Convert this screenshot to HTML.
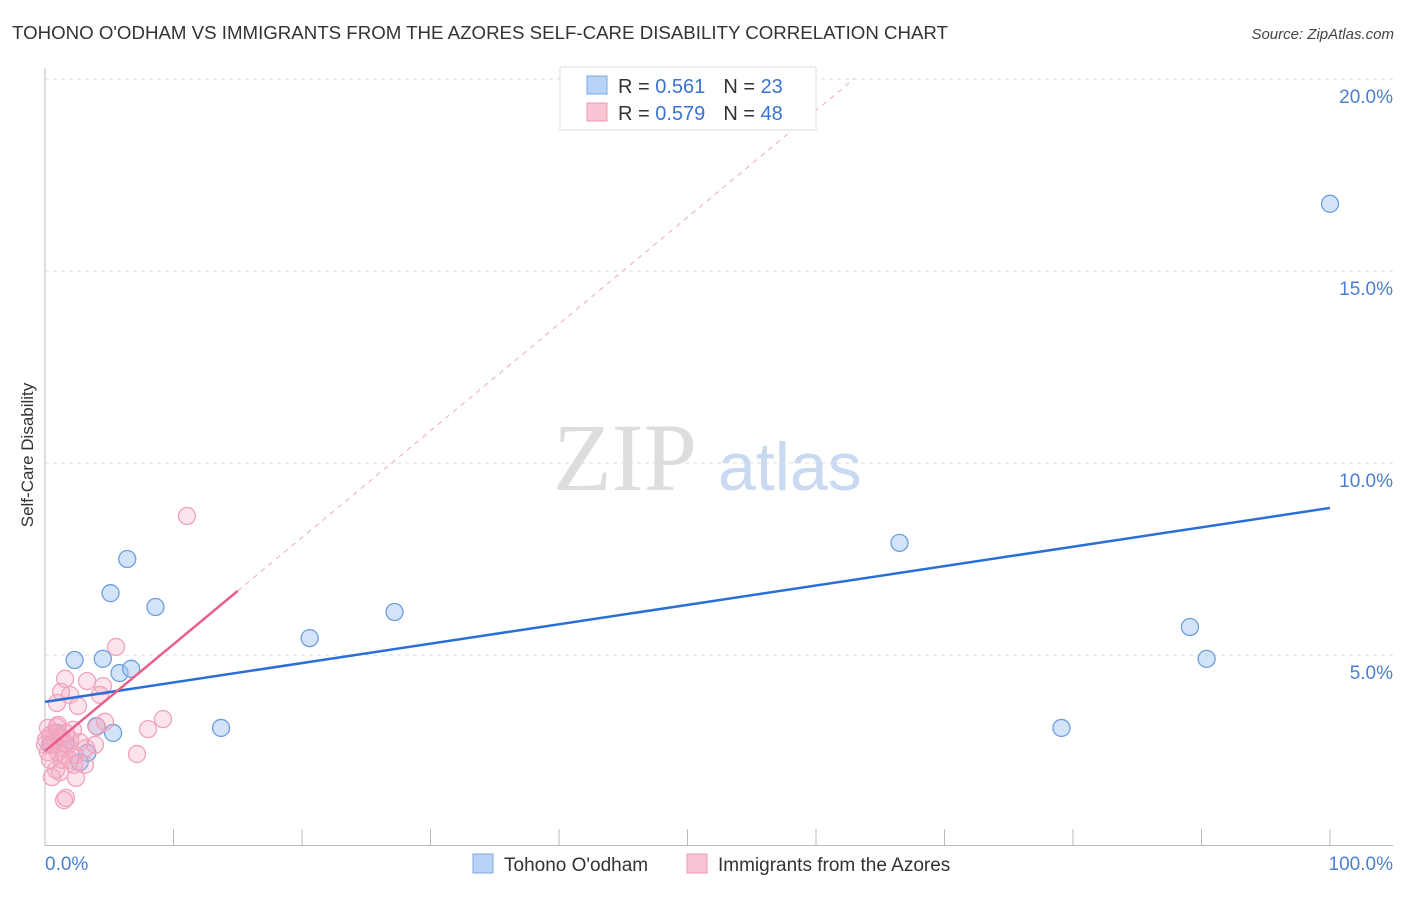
<!DOCTYPE html>
<html><head><meta charset="utf-8"><style>
body{margin:0;background:#fff;font-family:"Liberation Sans",sans-serif;}
</style></head><body>
<svg width="1406" height="892" xmlns="http://www.w3.org/2000/svg" font-family="Liberation Sans, sans-serif">
<text x="12" y="39" font-size="18" fill="#333" textLength="936" lengthAdjust="spacingAndGlyphs">TOHONO O'ODHAM VS IMMIGRANTS FROM THE AZORES SELF-CARE DISABILITY CORRELATION CHART</text>
<text x="1394" y="39" font-size="15" fill="#444" text-anchor="end" font-style="italic">Source: ZipAtlas.com</text>
<text x="553" y="490" font-size="96" fill="#ddd" font-family="Liberation Serif, serif">ZIP</text>
<text x="718" y="490" font-size="68" fill="#c9daf0">atlas</text>
<g id="grid"></g>
<line x1="45" y1="68" x2="45" y2="846" stroke="#bbb"/>
<line x1="45" y1="845.5" x2="1393" y2="845.5" stroke="#bbb"/>
<g id="ticks"></g>
<text transform="translate(33,455) rotate(-90)" font-size="17" fill="#333" text-anchor="middle">Self-Care Disability</text>
<text x="45" y="870" font-size="19" fill="#4a7fd4">0.0%</text>
<text x="1393" y="870" font-size="19" fill="#4a7fd4" text-anchor="end">100.0%</text>
<g id="lines"></g>
<g id="points"></g>
<g>
<rect x="560" y="67" width="256" height="63" fill="#fff" stroke="#ddd"/>
<rect x="587" y="76" width="20" height="18" fill="#b8d3f5" stroke="#7aa8e6"/>
<rect x="587" y="103" width="20" height="18" fill="#f9c4d3" stroke="#ee9ab3"/>
<text x="618" y="93" font-size="20" fill="#333">R = <tspan fill="#3a74d0">0.561</tspan><tspan dx="18">N = </tspan><tspan fill="#3a74d0">23</tspan></text>
<text x="618" y="120" font-size="20" fill="#333">R = <tspan fill="#3a74d0">0.579</tspan><tspan dx="18">N = </tspan><tspan fill="#3a74d0">48</tspan></text>
</g>
<g>
<rect x="473" y="854" width="20" height="19" fill="#b8d3f5" stroke="#7aa8e6"/>
<text x="504" y="871" font-size="19" fill="#333">Tohono O'odham</text>
<rect x="687" y="854" width="20" height="19" fill="#f9c4d3" stroke="#ee9ab3"/>
<text x="718" y="871" font-size="19" fill="#333">Immigrants from the Azores</text>
</g>
</svg>
<script>
const yTicks=[5,10,15,20];
const yTickLabels=["5.0%","10.0%","15.0%","20.0%"];
const xTicks=[0,10,20,30,40,50,60,70,80,90,100];
const blueX=[100,66.5,89.1,90.4,79.1,27.2,20.6,8.6,6.4,5.1,2.3,4.5,5.8,6.7,4.0,5.3,13.7,3.3,2.7,0.9,1.3,0.4,1.6];
const blueY=[16.75,7.92,5.73,4.9,3.1,6.12,5.44,6.25,7.5,6.61,4.87,4.9,4.53,4.64,3.15,2.97,3.1,2.45,2.21,2.97,2.84,2.66,2.68];
const pinkX=[11.05,5.53,1.56,3.27,4.51,1.95,4.28,1.25,2.57,0.93,4.67,9.18,8.02,7.16,4.05,2.18,0.93,0.39,0.78,0.54,1.32,1.79,1.01,1.48,2.33,0.23,1.95,2.26,0.86,1.17,0.54,2.41,1.63,1.48,3.19,3.89,0.39,0.70,1.17,0.08,0.23,1.95,2.72,0,1.32,1.01,1.63,3.11];
const pinkY=[8.62,5.21,4.38,4.32,4.19,3.96,3.96,4.04,3.67,3.75,3.26,3.33,3.07,2.42,3.13,3.05,3.13,2.92,2.79,2.66,2.58,2.66,2.47,2.40,2.40,2.47,2.27,2.14,2.01,1.95,1.82,1.80,1.28,1.22,2.58,2.66,2.27,2.97,2.89,2.79,3.10,2.79,2.73,2.66,2.27,3.18,2.97,2.14];
const blueFit=[3.78,8.83];
const pinkFit=[2.5,0.278];
const NS="http://www.w3.org/2000/svg";
const sx=v=>45+v*12.85, sy=v=>847-v*38.4;
function mk(t,a,p){const e=document.createElementNS(NS,t);for(const k in a)e.setAttribute(k,a[k]);p.appendChild(e);return e;}
const grid=document.getElementById('grid');
yTicks.forEach((t,i)=>{
 const l=mk('line',{x1:45,x2:1393,y1:sy(t),y2:sy(t),stroke:'#ddd','stroke-dasharray':'4,4'},grid);
 
 
 const tx=mk('text',{x:1393,y:sy(t)+24,'font-size':19,fill:'#4a7fd4','text-anchor':'end'},grid);
 tx.textContent=yTickLabels[i];
 
 
});
const tk=document.getElementById('ticks');
xTicks.forEach(t=>{
 const l=mk('line',{x1:sx(t),x2:sx(t),y1:829,y2:845,stroke:'#bbb'},tk);
 
 
});
const ln=document.getElementById('lines');
let l=mk('line',{x1:sx(15),y1:sy(pinkFit[0]+pinkFit[1]*15),x2:sx(63),y2:sy(pinkFit[0]+pinkFit[1]*63),stroke:'#f0a8bd','stroke-dasharray':'5,5','stroke-width':1},ln);


const pts=document.getElementById('points');
blueX.forEach((x,i)=>{
 const c=mk('circle',{cx:sx(x),cy:sy(blueY[i]),r:8.5,fill:'rgba(160,195,240,0.45)',stroke:'#6d9fe0','stroke-width':1.3},pts);
 
 
});
pinkX.forEach((x,i)=>{
 const c=mk('circle',{cx:sx(x),cy:sy(pinkY[i]),r:8.5,fill:'rgba(245,170,195,0.32)',stroke:'#f0a3bb','stroke-width':1.3},pts);
 
 
});
l=mk('line',{x1:sx(0),y1:sy(blueFit[0]),x2:sx(100),y2:sy(blueFit[1]),stroke:'#2a6fd6','stroke-width':2.5},pts);


l=mk('line',{x1:sx(0),y1:sy(pinkFit[0]),x2:sx(15),y2:sy(pinkFit[0]+pinkFit[1]*15),stroke:'#e8608a','stroke-width':2.5},pts);


</script>
</body></html>
